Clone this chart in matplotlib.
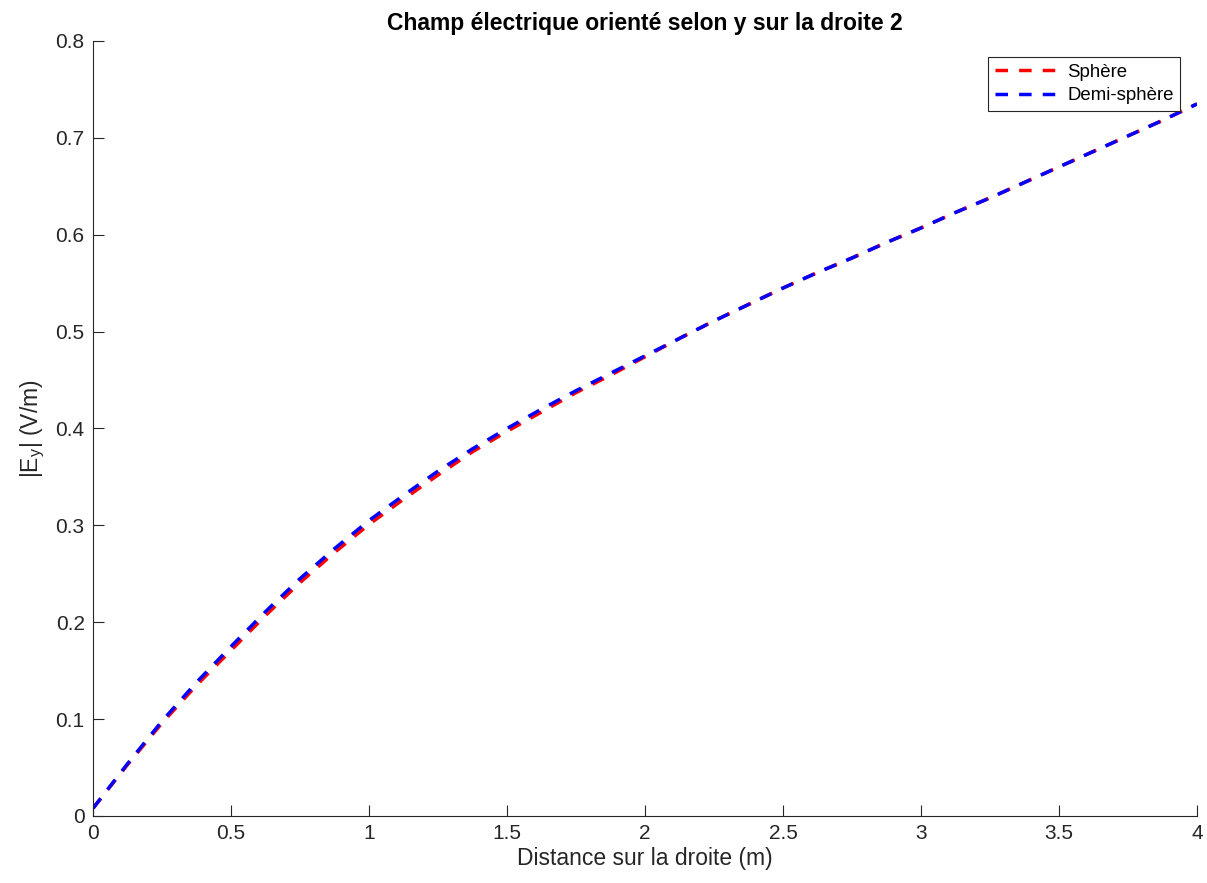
import matplotlib.pyplot as plt
import numpy as np

plt.rcParams['font.family'] = ['Liberation Sans', 'DejaVu Sans']

# Valeurs
distance = [0.0, 0.125, 0.25, 0.375, 0.5, 0.625, 0.75, 0.875, 1.0, 1.125, 1.25,
            1.375, 1.5, 1.625, 1.75, 1.875, 2.0, 2.125, 2.25, 2.375, 2.5, 2.625,
            2.75, 2.875, 3.0, 3.125, 3.25, 3.375, 3.5, 3.625, 3.75, 3.875, 4.0]
ey_demi = [0.008, 0.054, 0.098, 0.138, 0.175, 0.211, 0.245, 0.276, 0.305, 0.331,
           0.356, 0.379, 0.400, 0.420, 0.439, 0.457, 0.475, 0.493, 0.511, 0.528,
           0.545, 0.561, 0.576, 0.592, 0.607, 0.623, 0.638, 0.654, 0.670, 0.686,
           0.702, 0.718, 0.735]
ey_sphere = [0.008, 0.053, 0.096, 0.135, 0.171, 0.207, 0.241, 0.272, 0.301, 0.327,
             0.352, 0.376, 0.397, 0.417, 0.437, 0.455, 0.474, 0.493, 0.511, 0.528,
             0.545, 0.561, 0.576, 0.592, 0.607, 0.623, 0.638, 0.654, 0.670, 0.686,
             0.702, 0.718, 0.735]

xticks = np.arange(0, 4.01, 0.5)
yticks = np.arange(0, 0.81, 0.1)
xlabels = ['0', '0.5', '1', '1.5', '2', '2.5', '3', '3.5', '4']
ylabels = ['0', '0.1', '0.2', '0.3', '0.4', '0.5', '0.6', '0.7', '0.8']

fig = plt.figure(figsize=(12.07, 8.83), dpi=100)
ax = fig.add_axes([0.0771, 0.0759, 0.9146, 0.8777])

ax.plot(distance, ey_sphere, color='red', lw=2.5, ls=(0, (3.6, 3.2)), label='Sphère')
ax.plot(distance, ey_demi, color='blue', lw=2.5, ls=(0, (3.6, 3.2)), label='Demi-sphère')

ax.set_xlim(0, 4)
ax.set_ylim(0, 0.8)
ax.set_xticks(xticks, xlabels)
ax.set_yticks(yticks, ylabels)

gris = '#262626'
for s in ['top', 'right']:
    ax.spines[s].set_visible(False)
for s in ['left', 'bottom']:
    ax.spines[s].set_color(gris)
    ax.spines[s].set_linewidth(0.8)
ax.tick_params(direction='in', length=8, width=0.8, colors=gris, labelsize=15, pad=6)

ax.set_title('Champ électrique orienté selon y sur la droite 2', fontsize=16.5,
             fontweight='bold', pad=8)
ax.set_xlabel('Distance sur la droite (m)', fontsize=16.5, color=gris, labelpad=3)
ax.set_ylabel('|E$_\\mathregular{y}$| (V/m)', fontsize=16.5, color=gris, labelpad=6)

leg = ax.legend(loc='upper right', bbox_to_anchor=(0.985, 0.979), borderaxespad=0,
                fontsize=13.4, fancybox=False, framealpha=1, handlelength=3.4,
                borderpad=0.35, labelspacing=0.35, handletextpad=0.5)
leg.get_frame().set_edgecolor(gris)
leg.get_frame().set_linewidth(0.8)

plt.savefig('out.png', dpi=100)
